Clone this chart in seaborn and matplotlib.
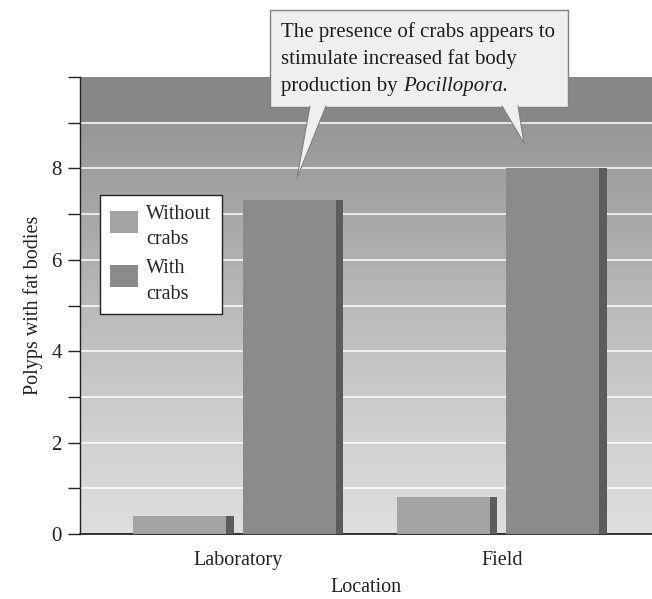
import numpy as np
import pandas as pd
import matplotlib
matplotlib.use("Agg")
import matplotlib.pyplot as plt
from matplotlib.patches import Patch, Polygon, Rectangle
from matplotlib.legend_handler import HandlerPatch
import seaborn as sns

# ---- data ----
locations = ["Laboratory", "Field"]
conditions = ["Without\ncrabs", "With\ncrabs"]
without_crabs = [0.4, 0.8]
with_crabs = [7.3, 8.0]
note_lines = ["The presence of crabs appears to",
              "stimulate increased fat body",
              "production by "]
note_italic = "Pocillopora"

df = pd.DataFrame({
    "Location": locations * 2,
    "Condition": [conditions[0]] * 2 + [conditions[1]] * 2,
    "Polyps": without_crabs + with_crabs,
})

sns.set_style("ticks")
plt.rcParams["font.family"] = ["Liberation Serif", "DejaVu Serif"]
plt.rcParams["font.size"] = 14

W, H = 652, 599
fig = plt.figure(figsize=(W / 100, H / 100), dpi=100)
fig.patch.set_facecolor("white")
ax = fig.add_axes([80 / W, 1 - 534 / H, 1 - 80 / W, (534 - 77) / H])

bar_colors = {conditions[0]: "#a4a4a4", conditions[1]: "#8b8b8b"}
sns.barplot(data=df, x="Location", y="Polyps", hue="Condition",
            order=locations, hue_order=conditions, palette=bar_colors,
            width=0.83, gap=0.08, saturation=1, edgecolor="none",
            legend=False, ax=ax, zorder=3)

ax.set_xlim(-0.60, 1.57)
ax.set_ylim(0, 10)

# gradient background
grad = np.linspace(0, 1, 256).reshape(-1, 1)
cmap = matplotlib.colors.LinearSegmentedColormap.from_list(
    "bg", ["#dfdfdf", "#c8c8c8", "#aaaaaa", "#8e8e8e"])
ax.imshow(grad, aspect="auto", cmap=cmap, origin="lower",
          extent=(-0.60, 1.57, 0, 10), zorder=0)
ax.add_patch(Rectangle((-0.60, 9), 2.17, 1, facecolor="#878787",
                       edgecolor="none", zorder=0.5))

# white gridlines
for v in range(1, 10):
    ax.axhline(v, color="white", lw=1.3, alpha=0.85, zorder=1)

# dark right side on each bar (3D look)
for p in list(ax.patches):
    if isinstance(p, Rectangle) and p.get_height() > 0 and p.get_zorder() == 3:
        x0 = p.get_x() + p.get_width()
        side = 0.028
        ax.add_patch(Rectangle((x0 - side, 0), side, p.get_height(),
                               facecolor="#5c5c5c", edgecolor="none", zorder=3.5))

ax.set_yticks(range(0, 11))
ax.set_yticklabels(["0", "", "2", "", "4", "", "6", "", "8", "", ""])
ax.tick_params(axis="y", direction="out", length=9, width=1.0, labelsize=15,
               pad=4, colors="#222222")
ax.tick_params(axis="x", length=0, labelsize=14.5, pad=12, colors="#222222")
for s in ["top", "right"]:
    ax.spines[s].set_visible(False)
ax.spines["left"].set_linewidth(1.0)
ax.spines["bottom"].set_linewidth(1.3)
ax.spines["left"].set_color("#222222")
ax.spines["bottom"].set_color("#222222")

ax.set_ylabel("Polyps with fat bodies", fontsize=14.5, labelpad=6, color="#222222")
ax.set_xlabel("Location", fontsize=14.5, labelpad=6, color="#222222")


# legend with square swatch aligned to first text line
def top_square(legend, orig_handle, xdescent, ydescent, width, height, fontsize):
    s = 22 * 72 / 100
    return Rectangle((-xdescent, -ydescent + height - s - 1), width, s)


handles = [Patch(facecolor=bar_colors[c], edgecolor="none") for c in conditions]
leg = ax.legend(handles, conditions, loc="upper left",
                bbox_to_anchor=(100 / W, 1 - 195 / H), bbox_transform=fig.transFigure,
                frameon=True, fancybox=False, fontsize=14.5, handlelength=1.4,
                handleheight=2.5, handletextpad=0.4, labelspacing=0.5,
                borderpad=0.5, borderaxespad=0,
                handler_map={Patch: HandlerPatch(patch_func=top_square)})
for t in leg.get_texts():
    t.set_linespacing(1.45)
leg.get_frame().set_edgecolor("#222222")
leg.get_frame().set_linewidth(1.0)
leg.get_frame().set_facecolor("white")
leg.get_frame().set_alpha(1)
leg.set_zorder(10)


# callout box
def fp(x, y):
    return (x / W, 1 - y / H)


box_col = "#efefef"
edge_col = "#808080"
fig.patches.append(Rectangle(fp(270, 107), 298 / W, 97 / H, transform=fig.transFigure,
                             facecolor=box_col, edgecolor=edge_col, lw=1.0, zorder=20))
for tri in ([(310, 106), (326, 106), (297, 178)], [(502, 106), (518, 106), (524, 143)]):
    fig.patches.append(Polygon([fp(*p) for p in tri], closed=True,
                               transform=fig.transFigure, facecolor=box_col,
                               edgecolor="none", zorder=21))
    (a, b, c) = tri
    fig.lines.append(matplotlib.lines.Line2D([fp(*a)[0], fp(*c)[0], fp(*b)[0]],
                                             [fp(*a)[1], fp(*c)[1], fp(*b)[1]],
                                             transform=fig.transFigure,
                                             color=edge_col, lw=0.8, zorder=22))

ys = [32, 59, 87]
for line, y in zip(note_lines, ys):
    t = fig.text(*fp(281, y), line, fontsize=15, va="center", ha="left",
                 color="#1e1e1e", zorder=30)
fig.canvas.draw()
bb = t.get_window_extent()
x_end = bb.x1 / W
fig.text(x_end, 1 - ys[2] / H, note_italic + ".", fontsize=15, va="center",
         ha="left", style="italic", color="#1e1e1e", zorder=30)

fig.savefig("out.png", dpi=100)
